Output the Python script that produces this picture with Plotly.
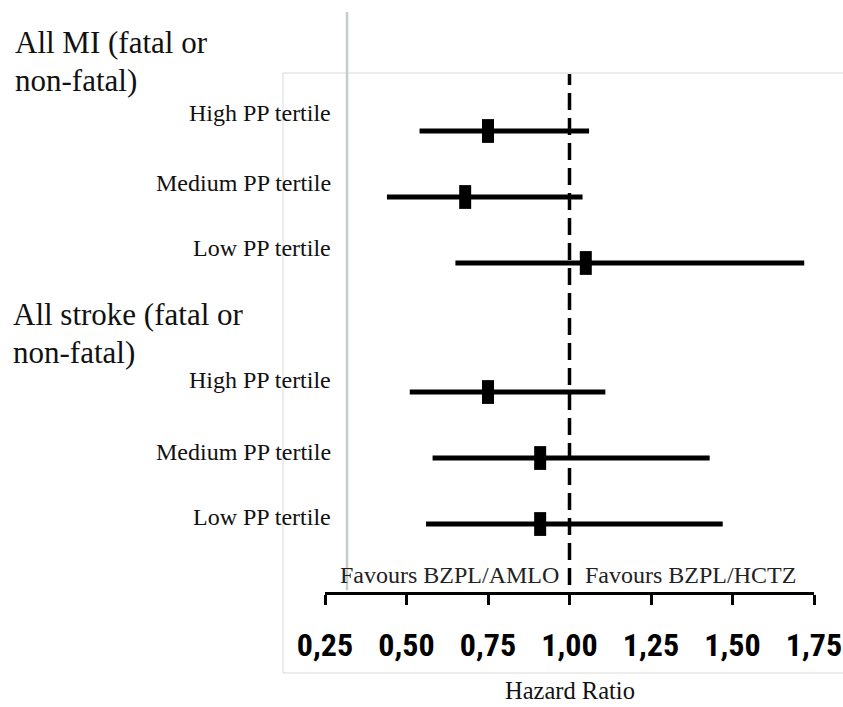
import plotly.graph_objects as go

# Forest plot: hazard ratios by pulse-pressure tertile
outcomes = ["All MI (fatal or<br>non-fatal)", "All stroke (fatal or<br>non-fatal)"]
subgroups = ["High PP tertile", "Medium PP tertile", "Low PP tertile",
             "High PP tertile", "Medium PP tertile", "Low PP tertile"]
hr = [0.75, 0.68, 1.05, 0.75, 0.91, 0.91]
ci_low = [0.54, 0.44, 0.65, 0.51, 0.58, 0.56]
ci_high = [1.06, 1.04, 1.72, 1.11, 1.43, 1.47]
tick_vals = [0.25, 0.50, 0.75, 1.00, 1.25, 1.50, 1.75]
tick_text = ["0,25", "0,50", "0,75", "1,00", "1,25", "1,50", "1,75"]

# row positions (second block sits one blank row below the first)
rows = [1, 2, 3, 4.955, 5.955, 6.955]
label_shift = [18, 14, 15, 12, 6, 7]

SERIF = "Liberation Serif, Times New Roman, serif"
BOLD_SANS = "Roboto Condensed, Liberation Sans, Arial, sans-serif"

fig = go.Figure()

# confidence-interval whiskers
xs, ys = [], []
for lo, hi, r in zip(ci_low, ci_high, rows):
    xs += [lo, hi, None]
    ys += [r, r, None]
fig.add_trace(go.Scatter(x=xs, y=ys, mode="lines",
                         line=dict(color="black", width=5),
                         hoverinfo="skip", showlegend=False))

# point estimates
fig.add_trace(go.Scatter(x=hr, y=rows, mode="markers",
                         marker=dict(symbol="line-ns", size=17,
                                     line=dict(width=12, color="black")),
                         showlegend=False))

annotations = []
for name, r, s in zip(subgroups, rows, label_shift):
    annotations.append(dict(x=0.0164, xref="paper", y=r, yref="y", yshift=s,
                            text=name, showarrow=False, xanchor="right",
                            font=dict(family=SERIF, size=24, color="#111")))

# outcome headers
header_lines = [o.split("<br>") for o in outcomes]
header_y = [(42, 80), (314, 352)]
header_x = [13, 11]
for lines, (y1, y2), hx in zip(header_lines, header_y, header_x):
    for txt, py in zip(lines, (y1, y2)):
        annotations.append(dict(x=(hx - 325) / 489, xref="paper",
                                y=(592 - py) / 580, yref="paper",
                                text=txt, showarrow=False, xanchor="left",
                                yanchor="middle",
                                font=dict(family=SERIF, size=31, color="#111")))

annotations += [
    dict(x=1.0, xref="x", y=0.029, yref="paper", xshift=-9, text="Favours BZPL/AMLO",
         showarrow=False, xanchor="right", yanchor="middle",
         font=dict(family=SERIF, size=24, color="#222")),
    dict(x=1.0, xref="x", y=0.029, yref="paper", xshift=13, text="Favours BZPL/HCTZ",
         showarrow=False, xanchor="left", yanchor="middle",
         font=dict(family=SERIF, size=24, color="#222")),
    dict(x=0.5, xref="paper", y=(592 - 690) / 580, yref="paper", text="Hazard Ratio",
         showarrow=False, xanchor="center", yanchor="middle",
         font=dict(family=SERIF, size=24.5, color="#111")),
]

shapes = [
    # light frame
    dict(type="rect", xref="paper", yref="paper", x0=(283 - 325) / 489, x1=1.2,
         y0=(592 - 673) / 580, y1=(592 - 73) / 580,
         line=dict(color="#d9d9d9", width=1), layer="below"),
    # grey divider
    dict(type="line", xref="paper", yref="paper", x0=(347 - 325) / 489, x1=(347 - 325) / 489,
         y0=0.003, y1=1.0, line=dict(color="#c4cccc", width=2.5)),
    # line of no effect
    dict(type="line", xref="x", yref="paper", x0=1.0, x1=1.0,
         y0=0.012, y1=0.893, line=dict(color="black", width=3.5, dash="17px,8px")),
]

fig.update_layout(
    width=843, height=707,
    margin=dict(l=325, r=29, t=12, b=115, autoexpand=False),
    paper_bgcolor="white", plot_bgcolor="white",
    annotations=annotations, shapes=shapes,
    xaxis=dict(range=[0.25, 1.75], tickvals=tick_vals, ticktext=tick_text,
               showline=True, linecolor="black", linewidth=2.5,
               ticks="outside", ticklen=10, tickwidth=2.5, tickcolor="black",
               showgrid=False, zeroline=False, ticklabelstandoff=13,
               tickangle=0, automargin=False,
               tickfont=dict(family=BOLD_SANS, size=32, color="black", weight="bold")),
    yaxis=dict(range=[7.985, -0.803], visible=False, showgrid=False, zeroline=False),
)

fig.write_html("out.html")
